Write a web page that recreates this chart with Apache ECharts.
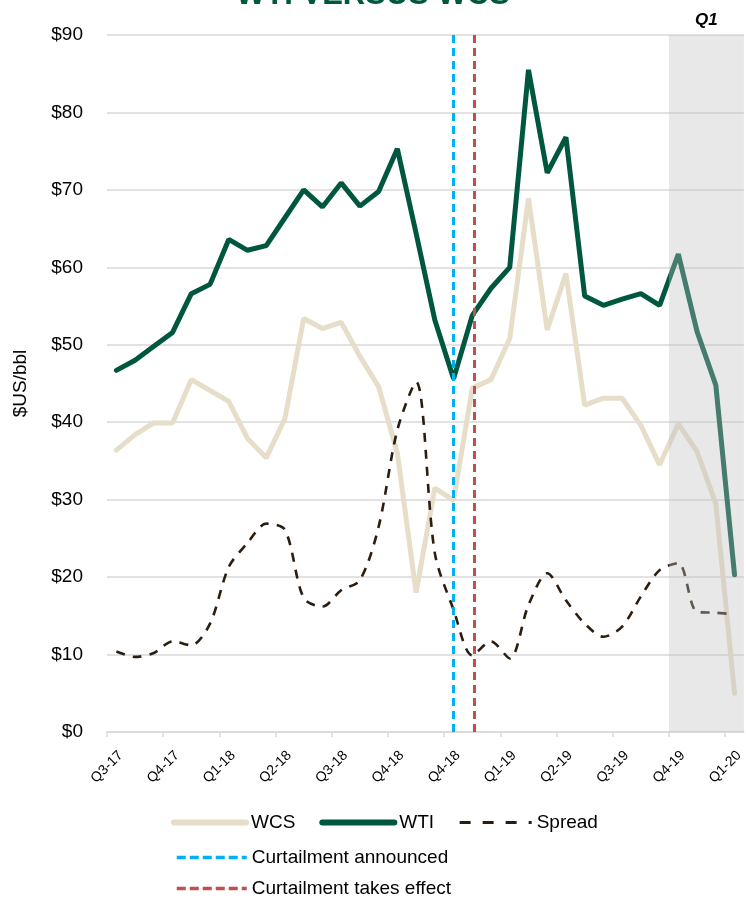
<!DOCTYPE html>
<html>
<head>
<meta charset="utf-8">
<script src="https://cdn.jsdelivr.net/npm/echarts@6/dist/echarts.min.js"></script>
<style>
  html, body { margin: 0; padding: 0; background: #fff; }
  #main { width: 746px; height: 901px; }
</style>
</head>
<body>
<div id="main"></div>
<script>
// monthly points, Jul-17 .. Apr-20 (34 months); axis labels every 3 months
var tickLabels = ["Q3-17", "Q4-17", "Q1-18", "Q2-18", "Q3-18", "Q4-18",
                  "Q4-18", "Q1-19", "Q2-19", "Q3-19", "Q4-19", "Q1-20"];

var wcs = [36.4, 38.4, 39.9, 39.9, 45.5, 44.1, 42.7, 37.9, 35.4, 40.5,
           53.4, 52.1, 52.9, 48.5, 44.6, 36.0, 18.0, 31.5, 29.9, 44.4,
           45.5, 50.8, 68.9, 51.9, 59.2, 42.2, 43.1, 43.1, 39.6, 34.5,
           39.8, 36.2, 29.5, 5.0];

var wti = [46.7, 48.0, 49.8, 51.6, 56.6, 57.8, 63.6, 62.2, 62.8, 66.4,
           70.0, 67.8, 70.9, 67.9, 69.8, 75.3, 64.4, 53.2, 45.6, 53.8,
           57.3, 60.0, 85.5, 72.2, 76.8, 56.3, 55.1, 55.9, 56.6, 55.1,
           61.7, 51.7, 44.8, 20.3];

var spread = [10.4, 9.7, 10.2, 11.7, 11.2, 14.0, 21.3, 24.4, 26.9, 26.1,
              17.3, 16.2, 18.3, 19.6, 26.5, 39.0, 45.2, 23.1, 15.8, 9.9,
              11.7, 9.5, 16.4, 20.5, 17.0, 14.0, 12.3, 13.6, 17.5, 20.9,
              21.8, 15.5, 15.4, 15.2];

// event positions on the month scale
var announcedAt = 18.5;
var effectAt = 19.6;
// Q1 shaded block
var shadeFrom = 30, shadeTo = 34;

function pairs(arr) {
  return arr.map(function (v, i) { return [i + 0.5, v]; });
}

var font = "'Liberation Sans', Arial, sans-serif";
var legendText = { fontSize: 19, color: "#000", fontFamily: font };

var option = {
  backgroundColor: "#ffffff",
  animation: false,
  textStyle: { fontFamily: font },
  title: {
    text: "WTI VERSUS WCS",
    left: "center",
    top: -25,
    textStyle: { color: "#00573f", fontSize: 31, fontWeight: "bold", fontFamily: font }
  },
  grid: { left: 107, right: 0, top: 35, bottom: 169 },
  legend: [
    {
      data: [
        { name: "WCS", lineStyle: { width: 6, cap: "round" } },
        { name: "WTI", lineStyle: { width: 6, cap: "round" } },
        { name: "Spread", lineStyle: { width: 3, type: [11, 12] } }
      ],
      left: 166, top: 808,
      itemWidth: 72, itemHeight: 14, itemGap: 24,
      itemStyle: { opacity: 0 },
      textStyle: legendText
    },
    {
      data: [{ name: "Curtailment announced", lineStyle: { width: 3.5, type: [9, 4] } }],
      left: 170, top: 843,
      itemWidth: 70, itemHeight: 14,
      itemStyle: { opacity: 0 },
      textStyle: legendText
    },
    {
      data: [{ name: "Curtailment takes effect", lineStyle: { width: 3.5, type: [9, 4] } }],
      left: 170, top: 874,
      itemWidth: 70, itemHeight: 14,
      itemStyle: { opacity: 0 },
      textStyle: legendText
    }
  ],
  xAxis: {
    type: "value",
    min: 0, max: 34, interval: 3,
    splitLine: { show: false },
    axisLine: { lineStyle: { color: "#d9d9d9", width: 1.5 } },
    axisTick: { show: true, length: 5, lineStyle: { color: "#d9d9d9", width: 1.5 } },
    axisLabel: {
      rotate: 45,
      align: "center",
      verticalAlign: "middle",
      margin: 35,
      fontSize: 14,
      color: "#000",
      showMaxLabel: false,
      formatter: function (v) { return tickLabels[Math.round(v / 3)] || ""; }
    }
  },
  yAxis: {
    type: "value",
    min: 0, max: 90, interval: 10,
    name: "$US/bbl",
    nameLocation: "middle",
    nameGap: 77,
    nameTextStyle: { fontSize: 19, color: "#000", fontFamily: font },
    axisLine: { show: false },
    axisTick: { show: false },
    axisLabel: { fontSize: 19, color: "#000", margin: 24, formatter: "${value}" },
    splitLine: { lineStyle: { color: "#d9d9d9", width: 1.5 } }
  },
  series: [
    {
      name: "WCS", type: "line", data: pairs(wcs),
      symbol: "none", z: 2,
      lineStyle: { color: "#e6dec9", width: 5, cap: "round" },
      itemStyle: { color: "#e6dec9" }
    },
    {
      name: "WTI", type: "line", data: pairs(wti),
      symbol: "none", z: 3,
      lineStyle: { color: "#00573f", width: 5, cap: "round" },
      itemStyle: { color: "#00573f" }
    },
    {
      name: "Spread", type: "line", data: pairs(spread),
      symbol: "none", smooth: 0.3, z: 4,
      lineStyle: { color: "#2b1d10", width: 2.6, type: [9, 8] },
      itemStyle: { color: "#2b1d10" }
    },
    {
      name: "Curtailment announced", type: "line", data: [],
      symbol: "none", z: 5,
      lineStyle: { color: "#00b0f0", width: 3, type: [8, 5] },
      itemStyle: { color: "#00b0f0" },
      markLine: {
        silent: true, symbol: "none",
        label: { show: false },
        lineStyle: { color: "#00b0f0", width: 3, type: [8, 5] },
        data: [{ xAxis: announcedAt }]
      }
    },
    {
      name: "Curtailment takes effect", type: "line", data: [],
      symbol: "none", z: 5,
      lineStyle: { color: "#c0504d", width: 3, type: [8, 5] },
      itemStyle: { color: "#c0504d" },
      markLine: {
        silent: true, symbol: "none",
        label: { show: false },
        lineStyle: { color: "#c0504d", width: 3, type: [8, 5] },
        data: [{ xAxis: effectAt }]
      }
    },
    {
      // translucent grey block laid over the lines
      name: "shade", type: "line", data: [],
      markArea: {
        silent: true,
        z: 20,
        itemStyle: { color: "rgba(190,190,190,0.36)" },
        label: {
          show: true, position: "top", distance: 6,
          formatter: "Q1",
          color: "#000", fontSize: 17, fontWeight: "bold", fontStyle: "italic"
        },
        data: [[{ xAxis: shadeFrom }, { xAxis: shadeTo }]]
      }
    }
  ]
};

var myChart = echarts.init(document.getElementById("main"));
myChart.setOption(option);
</script>
</body>
</html>
